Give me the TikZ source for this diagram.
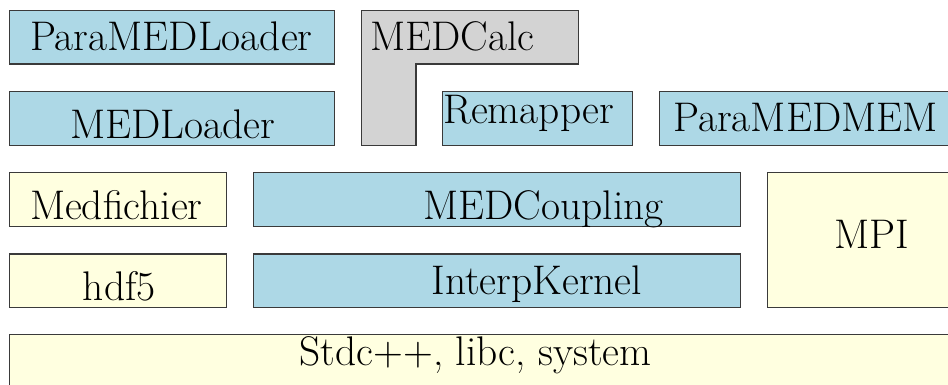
\documentclass[tikz,border=0pt]{standalone}
\definecolor{boxblue}{HTML}{ADD8E6}
\definecolor{boxyellow}{HTML}{FFFFE0}
\definecolor{boxgray}{HTML}{D3D3D3}
\definecolor{edge}{HTML}{3A3A3A}
\tikzset{
  boxshape/.style={draw=edge, line width=0.55pt},
  lbl/.style={anchor=base west, inner sep=0pt, outer sep=0pt, font=\fontsize{20.7}{20.7}\selectfont, text=black},
}
\begin{document}
\begin{tikzpicture}[x=0.5pt, y=-0.5pt]
\useasboundingbox (0,0) rectangle (948,385);
\clip (0,0) rectangle (948,385);
\fill[white] (0,0) rectangle (948,385);
% boxes
\draw[boxshape, fill=boxblue] (9.3,10.3) rectangle (334.7,64);
\draw[boxshape, fill=boxblue] (9.3,91.3) rectangle (334.7,145.7);
\draw[boxshape, fill=boxgray] (361.3,10.3) -- (578.3,10.3) -- (578.3,64) -- (416,64) -- (416,145.7) -- (361.3,145.7) -- cycle;
\draw[boxshape, fill=boxblue] (442.3,91.3) rectangle (632.7,145.7);
\draw[boxshape, fill=boxblue] (659.3,91.3) rectangle (970,145.3);
\draw[boxshape, fill=boxyellow] (9.3,172.7) rectangle (226.7,226.7);
\draw[boxshape, fill=boxblue] (253.3,172.7) rectangle (740.7,226.7);
\draw[boxshape, fill=boxyellow] (767.7,172.7) rectangle (970,307.7);
\draw[boxshape, fill=boxyellow] (9.3,254) rectangle (226.7,307.7);
\draw[boxshape, fill=boxblue] (253.3,254) rectangle (740.7,307.7);
\draw[boxshape, fill=boxyellow] (9.3,334.7) rectangle (970,400);
% labels
\node[lbl] (pml) at (30,51) {ParaMEDLoader};
\node[lbl] (ml) at (70.5,138.5) {MEDLoader};
\node[lbl] (mc) at (370,51) {MEDCalc};
\node[lbl] (rm) at (443,124) {Remapper};
\node[lbl] (pmm) at (673.3,131.7) {ParaMEDMEM};
\node[lbl] (mf) at (30,220) {Medfichier};
\node[lbl] (mcp) at (423.3,219.3) {MEDCoupling};
\node[lbl] (mpi) at (834,249) {MPI};
\node[lbl] (hdf) at (83,300.7) {hdf5};
\node[lbl] (ik) at (431.5,294) {InterpKernel};
\node[lbl] (std) at (299.7,365.5) {Stdc++, libc, system};
\end{tikzpicture}
\end{document}
